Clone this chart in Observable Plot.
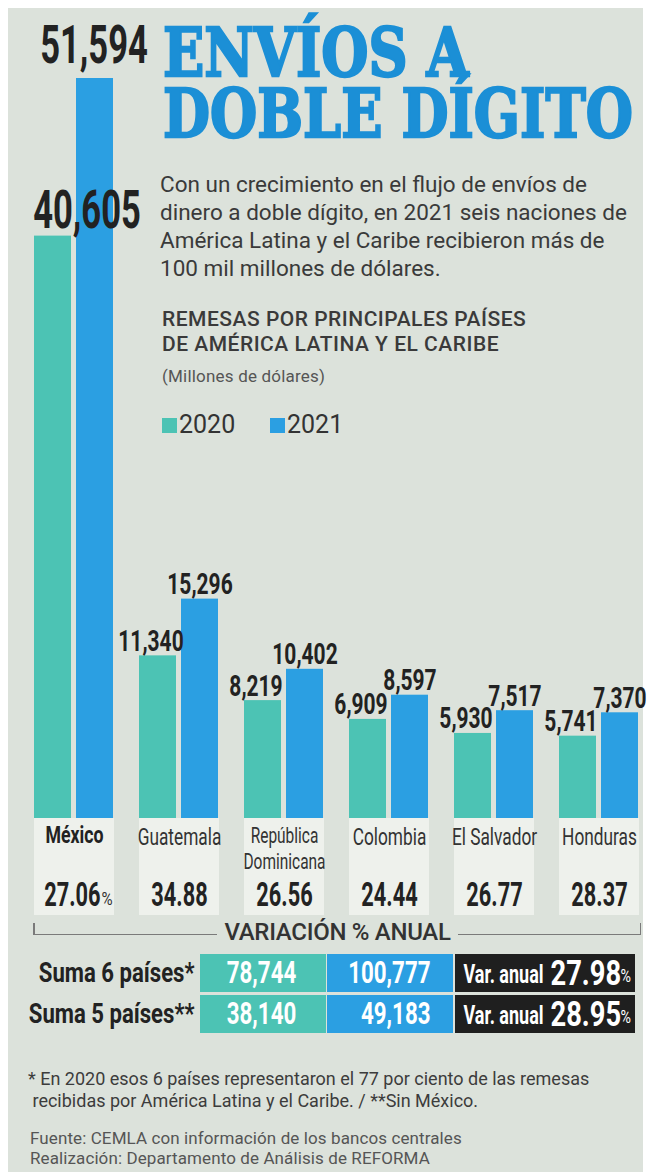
<!DOCTYPE html>
<html>
<head>
<meta charset="utf-8">
<script src="https://cdn.jsdelivr.net/npm/d3@7"></script>
<script src="https://cdn.jsdelivr.net/npm/@observablehq/plot@0.6"></script>
<style>
  html, body { margin: 0; padding: 0; background: #fff; }
  #page { position: relative; width: 647px; height: 1175px; overflow: hidden; font-family: Roboto, sans-serif; }
  #panel { position: absolute; left: 8px; top: 8px; width: 635px; height: 1164px; background: #dce2db; }
  .abs { position: absolute; white-space: nowrap; }
  .title { font-family: "DejaVu Serif", serif; font-weight: bold; font-size: 68px; line-height: 61px; color: #1b8fd6; -webkit-text-stroke: 2.4px #1b8fd6; transform-origin: 0 0; }
  .sub { font-size: 22.5px; line-height: 28px; color: #3a3a3a; letter-spacing: 0px; }
  .head { font-size: 21px; line-height: 25px; font-weight: 500; color: #3a3a3a; letter-spacing: 0.5px; }
  .unit { font-size: 17px; line-height: 18px; color: #555; letter-spacing: 0.2px; }
  .leg { font-size: 25px; line-height: 26px; color: #333; }
  .sw { position: absolute; width: 15px; height: 15px; }
  .line { position: absolute; background: #7a7a7a; }
  .note { font-size: 18px; line-height: 22px; color: #3c3c3c; letter-spacing: 0px; }
  .src { font-size: 17px; line-height: 20px; color: #555; letter-spacing: 0.1px; }
  .chart { position: absolute; left: 0; }
</style>
</head>
<body>
<div id="page">
  <div id="panel"></div>
  <div id="main" class="chart" style="top:0"></div>
  <div id="table" class="chart" style="top:953px"></div>

  <div class="abs title" id="title" style="left:163px; top:22px">ENVÍOS A<br>DOBLE DÍGITO</div>

  <div class="abs sub" style="left:160px; top:170px">Con un crecimiento en el flujo de envíos de<br>dinero a doble dígito, en 2021 seis naciones de<br>América Latina y el Caribe recibieron más de<br>100 mil millones de dólares.</div>

  <div class="abs head" style="left:162px; top:307px">REMESAS POR PRINCIPALES PAÍSES<br>DE AMÉRICA LATINA Y EL CARIBE</div>
  <div class="abs unit" style="left:162px; top:367px">(Millones de dólares)</div>

  <div id="legend"></div>

  <div class="line" style="left:33px; top:923px; width:1.5px; height:12px"></div>
  <div class="line" style="left:33px; top:933.5px; width:184px; height:1.5px"></div>
  <div class="line" style="left:458px; top:933.5px; width:183px; height:1.5px"></div>
  <div class="line" style="left:639.5px; top:923px; width:1.5px; height:12px"></div>
  <div class="abs" style="left:217px; width:241px; top:919px; text-align:center; font-size:24px; line-height:26px; font-weight:500; color:#333; letter-spacing:-0.3px">VARIACIÓN % ANUAL</div>

  <div class="abs note" style="left:28px; top:1068px">* En 2020 esos 6 países representaron el 77 por ciento de las remesas<br>&nbsp;recibidas por América Latina y el Caribe. / **Sin México.</div>
  <div class="abs src" style="left:30px; top:1128px">Fuente: CEMLA con información de los bancos centrales<br>Realización: Departamento de Análisis de REFORMA</div>
</div>

<script>
// ---- Data ----
const countries = ["México", "Guatemala", "República Dominicana", "Colombia", "El Salvador", "Honduras"];
const countryLabels = ["México", "Guatemala", "República\nDominicana", "Colombia", "El Salvador", "Honduras"];
const values2020 = [40605, 11340, 8219, 6909, 5930, 5741];
const values2021 = [51594, 15296, 10402, 8597, 7517, 7370];
const variation = ["27.06", "34.88", "26.56", "24.44", "26.77", "28.37"];
const years = ["2020", "2021"];
const sumLabels = ["Suma 6 países*", "Suma 5 países**"];
const sum2020 = [78744, 38140];
const sum2021 = [100777, 49183];
const sumVariation = ["27.98", "28.95"];

// ---- Styling ----
const teal = "#4cc3b4", blue = "#2b9fe2", black = "#1f1f1f";
const fmt = d3.format(",");
const F = (s) => `Roboto, sx${s}, sans-serif`;   // sxNN => horizontal condensing factor NN%

// ---- Title fit (horizontal) ----
function fitWidth(id, target) {
  const el = document.getElementById(id);
  const w = el.getBoundingClientRect().width;
  el.style.transform = `scaleX(${target / w})`;
}
fitWidth("title", 470);

// ---- Legend (HTML) ----
const legend = document.getElementById("legend");
const legX = [162, 270];
years.forEach((y, i) => {
  const sw = document.createElement("div");
  sw.className = "sw";
  sw.style.left = legX[i] + "px"; sw.style.top = "418px";
  sw.style.background = [teal, blue][i];
  legend.appendChild(sw);
  const t = document.createElement("div");
  t.className = "abs leg";
  t.style.left = (legX[i] + 17) + "px"; t.style.top = "412px";
  t.textContent = y;
  legend.appendChild(t);
});

// ---- Main bar chart ----
const bars = countries.flatMap((c, i) => [
  {country: c, year: "2020", value: values2020[i]},
  {country: c, year: "2021", value: values2021[i]}
]);
const isMex = (d) => d.country === "México";
const pct = countries.map((c, i) => ({country: c, label: countryLabels[i], v: variation[i]}));

const main = Plot.plot({
  width: 647, height: 945,
  marginTop: 78, marginBottom: 127, marginLeft: 33, marginRight: 7,
  style: {background: "transparent", overflow: "visible"},
  fx: {domain: countries, paddingInner: 0.24, paddingOuter: 0, axis: null},
  x: {domain: years, paddingInner: 0.118, paddingOuter: 0, axis: null},
  y: {domain: [0, 51594], axis: null},
  color: {domain: years, range: [teal, blue]},
  marks: [
    Plot.rect(countries, {fx: (d) => d, y1: 0, y2: 0, insetBottom: -97, fill: "#eef1ec"}),
    Plot.barY(bars, {fx: "country", x: "year", y: "value", fill: "year"}),
    // value labels
    Plot.text(bars.filter((d) => !isMex(d) && d.year === "2020"), {
      fx: "country", x: "year", y: "value", text: (d) => fmt(d.value),
      lineAnchor: "bottom", dy: -5, dx: -7, fontSize: 30, fontWeight: 700, fill: "#222", fontFamily: F(70)
    }),
    Plot.text(bars.filter((d) => !isMex(d) && d.year === "2021"), {
      fx: "country", x: "year", y: "value", text: (d) => fmt(d.value),
      lineAnchor: "bottom", dy: -5, dx: 0, fontSize: 30, fontWeight: 700, fill: "#222", fontFamily: F(70)
    }),
    Plot.text(bars.filter((d) => isMex(d) && d.year === "2020"), {
      fx: "country", x: "year", y: "value", text: (d) => fmt(d.value),
      lineAnchor: "bottom", dy: -8, dx: 34, fontSize: 54, fontWeight: 700, fill: "#222", fontFamily: F(64)
    }),
    Plot.text(bars.filter((d) => isMex(d) && d.year === "2021"), {
      fx: "country", x: "year", y: "value", text: (d) => fmt(d.value),
      lineAnchor: "bottom", dy: -16, dx: -1, fontSize: 54, fontWeight: 700, fill: "#222", fontFamily: F(64)
    }),
    // country labels
    Plot.text(pct.filter(isMex), {
      fx: "country", text: "label", frameAnchor: "bottom", lineAnchor: "top", dy: 7,
      fontSize: 24, fontWeight: 700, fill: "#222", fontFamily: F(74)
    }),
    Plot.text(pct.filter((d) => !isMex(d)), {
      fx: "country", text: "label", frameAnchor: "bottom", lineAnchor: "top", dy: 7, lineHeight: 1.17,
      fontSize: (d) => (d.label.includes("\n") ? 21.5 : 24), fontWeight: 400, fill: "#333", fontFamily: F(72)
    }),
    // annual variation
    Plot.text(pct.filter((d) => !isMex(d)), {
      fx: "country", text: "v", frameAnchor: "bottom", lineAnchor: "bottom", dy: 87,
      fontSize: 33, fontWeight: 700, fill: "#222", fontFamily: F(66)
    }),
    Plot.text(pct.filter(isMex), {
      fx: "country", text: "v", frameAnchor: "bottom", lineAnchor: "bottom", dy: 87, dx: 26, textAnchor: "end",
      fontSize: 33, fontWeight: 700, fill: "#222", fontFamily: F(66)
    }),
    Plot.text(pct.filter(isMex), {
      fx: "country", text: () => "%", frameAnchor: "bottom", lineAnchor: "bottom", dy: 86, dx: 27, textAnchor: "start",
      fontSize: 19, fontWeight: 400, fill: "#333", fontFamily: F(80)
    })
  ]
});
document.getElementById("main").appendChild(main);

// ---- Summary table ----
const tableCols = ["2020", "2021", "var"];
const tableLayout = {"2020": [200, 326], "2021": [327, 453], "var": [455, 635]};
const cells = sumLabels.flatMap((row) => tableCols.map((col) => ({row, col})));
const rows = sumLabels.map((row, i) => ({row, a: sum2020[i], b: sum2021[i], v: sumVariation[i]}));

const table = Plot.plot({
  width: 647, height: 80,
  margin: 0,
  style: {background: "transparent", overflow: "visible"},
  x: {domain: [0, 647], axis: null},
  y: {domain: sumLabels, paddingInner: 0.08, paddingOuter: 0, axis: null},
  color: {domain: tableCols, range: [teal, blue, black]},
  marks: [
    Plot.barX(cells, {x1: (d) => tableLayout[d.col][0], x2: (d) => tableLayout[d.col][1], y: "row", fill: "col"}),
    Plot.text(rows, {x: 194, y: "row", text: "row", textAnchor: "end", lineAnchor: "middle",
      fontSize: 28, fontWeight: 700, fill: "#222", fontFamily: F(79)}),
    Plot.text(rows, {x: 261, y: "row", text: (d) => fmt(d.a), textAnchor: "middle", lineAnchor: "middle",
      fontSize: 31, fontWeight: 700, fill: "#fff", fontFamily: F(72)}),
    Plot.text(rows, {x: 430, y: "row", text: (d) => fmt(d.b), textAnchor: "end", lineAnchor: "middle",
      fontSize: 31, fontWeight: 700, fill: "#fff", fontFamily: F(72)}),
    Plot.text(rows, {x: 463, y: "row", text: () => "Var. anual", textAnchor: "start", lineAnchor: "middle", dy: 1,
      fontSize: 25, fontWeight: 700, fill: "#fff", fontFamily: F(72)}),
    Plot.text(rows, {x: 550, y: "row", text: "v", textAnchor: "start", lineAnchor: "middle",
      fontSize: 35, fontWeight: 700, fill: "#fff", fontFamily: F(78)}),
    Plot.text(rows, {x: 620, y: "row", text: () => "%", textAnchor: "start", lineAnchor: "middle", dy: 2,
      fontSize: 19, fontWeight: 400, fill: "#fff", fontFamily: F(75)})
  ]
});
document.getElementById("table").appendChild(table);

// ---- Horizontal condensing of text (font-family carries sxNN tag) ----
function condense(svg) {
  svg.querySelectorAll("[font-family*='sx']").forEach((g) => {
    const m = /sx(\d+)/.exec(g.getAttribute("font-family"));
    if (!m) return;
    const s = +m[1] / 100;
    const texts = g.tagName.toLowerCase() === "text" ? [g] : g.querySelectorAll("text");
    texts.forEach((t) => {
      const tr = t.getAttribute("transform");
      if (tr) {
        t.setAttribute("transform", tr + ` scale(${s},1)`);
      } else {
        const x = parseFloat(t.getAttribute("x") || "0");
        const xs = t.getAttribute("x") || "";
        if (xs === "" || /^[-\d.]+$/.test(xs)) {
          t.setAttribute("transform", `translate(${isNaN(x) ? 0 : x},0) scale(${s},1)`);
          t.removeAttribute("x");
        } else {
          t.setAttribute("transform", `scale(${s},1)`);
        }
      }
    });
  });
}
condense(main);
condense(table);
</script>
</body>
</html>
